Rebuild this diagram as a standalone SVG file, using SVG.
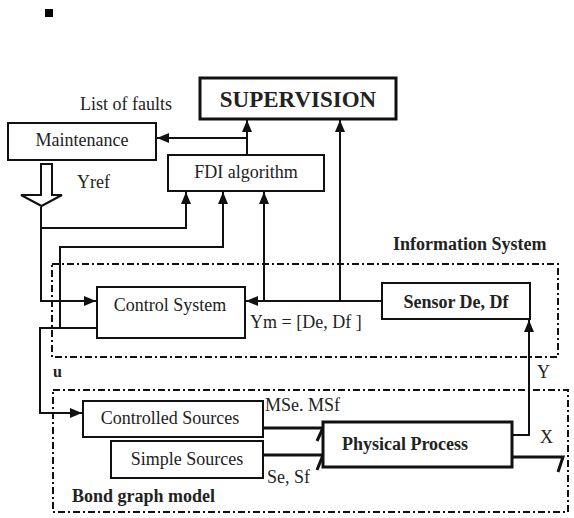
<svg xmlns="http://www.w3.org/2000/svg" width="574" height="518" viewBox="0 0 574 518">
<style>
.bx{fill:#fff;stroke:#111;stroke-width:2}
.thk{fill:#fff;stroke:#111;stroke-width:3}
.ln{fill:none;stroke:#111;stroke-width:2}
.bd{fill:none;stroke:#111;stroke-width:3}
.dd{fill:none;stroke:#111;stroke-width:2;stroke-dasharray:7 3 2 3}
text{font-family:'Liberation Serif', 'DejaVu Serif', serif;font-size:18px;fill:#222}
.b{font-weight:bold}
.big{font-size:23px}
.s16{font-size:16px}
</style>
<defs>
<marker id="ah" viewBox="0 0 12 10" refX="12" refY="5" markerWidth="12" markerHeight="10" markerUnits="userSpaceOnUse" orient="auto">
<path d="M0,0 L12,5 L0,10 Z" fill="#111"/>
</marker>
</defs>
<rect x="45" y="9" width="8" height="8" fill="#000"/>
<g id="frames">
<rect class="dd" x="52" y="264" width="506" height="93"/>
<rect class="dd" x="53" y="390" width="515" height="122"/>
<text class="b" x="393" y="250">Information System</text>
<text class="b" x="72" y="502">Bond graph model</text>
</g>
<g id="connectors">
<path class="ln" d="M247,155 V120" marker-end="url(#ah)"/>
<path class="ln" d="M247,138 H157" marker-end="url(#ah)"/>
<path class="ln" d="M41,207 V301 H96" marker-end="url(#ah)"/>
<path class="ln" d="M41,228 H186 V192" marker-end="url(#ah)"/>
<path class="ln" d="M60,328 V247 H223 V192" marker-end="url(#ah)"/>
<path class="ln" d="M381,301 H246" marker-end="url(#ah)"/>
<path class="ln" d="M264,301 V192"  marker-end="url(#ah)"/>
<path class="ln" d="M340,301 V120" marker-end="url(#ah)"/>
<path class="ln" d="M97,328 H40 V413 H82" marker-end="url(#ah)"/>
<path class="ln" d="M512,435 H529 V320" marker-end="url(#ah)"/>
<path class="bd" d="M263,428 H323 L317,441"/>
<path class="bd" d="M263,455 H323 L317,470"/>
<path class="bd" d="M512,457 H563 L558,472"/>
<polygon points="41,164 52,164 52,195 62,195 41.5,206 21,195 41,195" fill="#fff" stroke="#111" stroke-width="2"/>
</g>
<g id="supervision">
<rect class="thk" x="200" y="78" width="196" height="41"/>
<text class="b big" x="298" y="107" text-anchor="middle">SUPERVISION</text>
</g>
<g id="maintenance">
<rect class="bx" x="8" y="123" width="148" height="37"/>
<text x="82" y="146" text-anchor="middle">Maintenance</text>
</g>
<g id="fdi">
<rect class="bx" x="168" y="155" width="156" height="36"/>
<text x="246" y="178" text-anchor="middle">FDI algorithm</text>
</g>
<g id="control">
<rect class="bx" x="97" y="287" width="148" height="51"/>
<text x="170" y="311" text-anchor="middle">Control System</text>
</g>
<g id="sensor">
<rect class="bx" x="382" y="283" width="148" height="36"/>
<text class="b" x="456" y="308" text-anchor="middle">Sensor De, Df</text>
</g>
<g id="controlled">
<rect class="bx" x="83" y="401" width="180" height="36"/>
<text x="170" y="424" text-anchor="middle">Controlled Sources</text>
</g>
<g id="simple">
<rect class="bx" x="111" y="441" width="152" height="37"/>
<text x="187" y="465" text-anchor="middle">Simple Sources</text>
</g>
<g id="physical">
<rect class="thk" x="323" y="422" width="189" height="45"/>
<text class="b" x="405" y="450" text-anchor="middle">Physical Process</text>
</g>
<g id="labels">
<text x="80" y="110">List of faults</text>
<text x="77" y="188">Yref</text>
<text x="250" y="328">Ym = [De, Df ]</text>
<text class="b s16" x="53" y="377">u</text>
<text x="537" y="378">Y</text>
<text x="265" y="411">MSe. MSf</text>
<text x="267" y="483">Se, Sf</text>
<text x="540" y="443">X</text>
</g>
</svg>
